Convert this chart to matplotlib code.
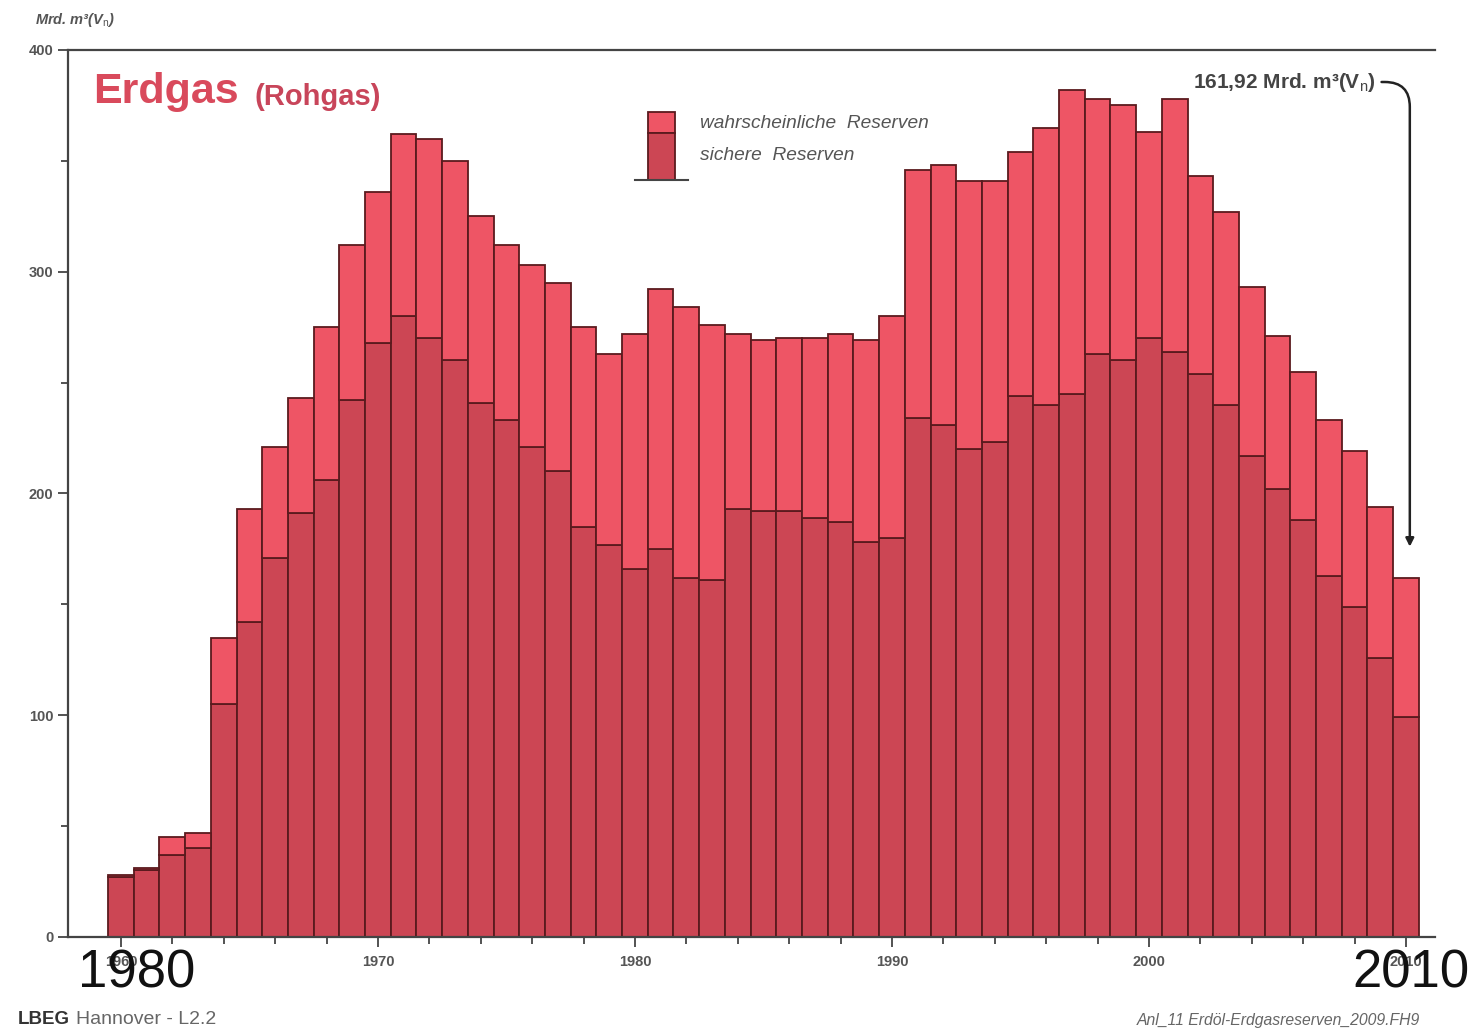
import matplotlib
matplotlib.use("Agg")
import matplotlib.pyplot as plt
from matplotlib.patches import Rectangle
from matplotlib.lines import Line2D

plt.rcParams["font.family"] = ["Liberation Sans", "DejaVu Sans"]
plt.rcParams["mathtext.fontset"] = "custom"
plt.rcParams["mathtext.rm"] = "Liberation Sans"

# ---- data (Mrd. m³(Vn)) ----
years = list(range(1960, 2011))
sichere = [27, 30, 37, 40, 105, 142, 171, 191, 206, 242,
           268, 280, 270, 260, 241, 233, 221, 210, 185, 177,
           166, 175, 162, 161, 193, 192, 192, 189, 187, 178,
           180, 234, 231, 220, 223, 244, 240, 245, 263, 260,
           270, 264, 254, 240, 217, 202, 188, 163, 149, 126,
           99]
gesamt = [28, 31, 45, 47, 135, 193, 221, 243, 275, 312,
          336, 362, 360, 350, 325, 312, 303, 295, 275, 263,
          272, 292, 284, 276, 272, 269, 270, 270, 272, 269,
          280, 346, 348, 341, 341, 354, 365, 382, 378, 375,
          363, 378, 343, 327, 293, 271, 255, 233, 219, 194,
          161.92]
wahrscheinliche = [g - s for g, s in zip(gesamt, sichere)]

x_major = [1960, 1970, 1980, 1990, 2000, 2010]
y_major = [0, 100, 200, 300, 400]

c_upper = "#ee5565"
c_lower = "#cc4654"
c_edge = "#5a1a1e"
c_grey = "#555555"

W, H = 1473, 1032
fig = plt.figure(figsize=(14.73, 10.32), dpi=100)
ax = fig.add_axes([68 / W, 1 - 937 / H, (1435 - 68) / W, (937 - 50) / H])

ax.bar(years, sichere, width=1.0, color=c_lower, edgecolor=c_edge, linewidth=1.3, zorder=2)
ax.bar(years, wahrscheinliche, width=1.0, bottom=sichere, color=c_upper,
       edgecolor=c_edge, linewidth=1.3, zorder=2)

ax.set_xlim(1957.94, 2011.13)
ax.set_ylim(0, 400)

ax.spines["right"].set_visible(False)
for s in ["left", "bottom", "top"]:
    ax.spines[s].set_color("#444444")
    ax.spines[s].set_linewidth(1.6)

ax.set_xticks(x_major)
ax.set_xticks(list(range(1960, 2011, 2)), minor=True)
ax.set_yticks(y_major)
ax.set_yticks([50, 150, 250, 350], minor=True)
ax.tick_params(axis="both", which="both", direction="out", color="#444444", width=1.3)
ax.tick_params(axis="both", which="major", length=7, labelsize=10.5, labelcolor=c_grey)
ax.tick_params(axis="both", which="minor", length=5)
ax.tick_params(axis="x", pad=6)
for lbl in ax.get_xticklabels() + ax.get_yticklabels():
    lbl.set_fontweight("bold")

# y unit label
fig.text(35 / W, 1 - 20 / H, "Mrd. m³(V$_\\mathrm{n}$)", fontsize=10.5, style="italic",
         fontweight="bold", color=c_grey, va="center", ha="left")

# title
fig.text(93 / W, 1 - 92 / H, "Erdgas", fontsize=31, fontweight="bold",
         color="#d94a5c", va="center", ha="left")
fig.text(255 / W, 1 - 97 / H, "(Rohgas)", fontsize=21, fontweight="bold",
         color="#c8455a", va="center", ha="left")

# legend
fig.patches.append(Rectangle((648 / W, 1 - 133 / H), 27 / W, 21 / H, transform=fig.transFigure,
                             facecolor=c_upper, edgecolor=c_edge, linewidth=1.3))
fig.patches.append(Rectangle((648 / W, 1 - 180 / H), 27 / W, 47 / H, transform=fig.transFigure,
                             facecolor=c_lower, edgecolor=c_edge, linewidth=1.3))
fig.lines.append(Line2D([635 / W, 688 / W], [1 - 180 / H, 1 - 180 / H], transform=fig.transFigure,
                        color="#444444", linewidth=1.5))
fig.text(700 / W, 1 - 123 / H, "wahrscheinliche  Reserven", fontsize=13.8, style="italic",
         color=c_grey, va="center", ha="left")
fig.text(700 / W, 1 - 155 / H, "sichere  Reserven", fontsize=13.8, style="italic",
         color=c_grey, va="center", ha="left")

# annotation with hooked arrow
ax.annotate("161,92 Mrd. m³(V$_\\mathrm{n}$)", xy=(2010.15, 176), xycoords="data",
            xytext=(1376 / W, 1 - 82 / H), textcoords="figure fraction",
            fontsize=15, fontweight="bold", color="#444444", ha="right", va="center",
            arrowprops=dict(arrowstyle="-|>", color="#222222", lw=1.8,
                            connectionstyle="angle,angleA=0,angleB=90,rad=25",
                            shrinkA=2, shrinkB=0, mutation_scale=12))

# large overlay year labels
fig.text(78 / W, 1 - 973 / H, "1980", fontsize=38, color="#111111", va="center", ha="left")
fig.text(1352 / W, 1 - 973 / H, "2010", fontsize=38, color="#111111", va="center", ha="left")

# footer
fig.text(18 / W, 1 - 1020 / H, "LBEG", fontsize=13.5, fontweight="bold", color="#333333",
         va="center", ha="left")
fig.text(76 / W, 1 - 1020 / H, "Hannover - L2.2", fontsize=14, color="#666666",
         va="center", ha="left")
fig.text(1420 / W, 1 - 1020 / H, "Anl_11 Erdöl-Erdgasreserven_2009.FH9", fontsize=11.3,
         style="italic", color="#666666", va="center", ha="right")

fig.savefig("out.png", dpi=100)
